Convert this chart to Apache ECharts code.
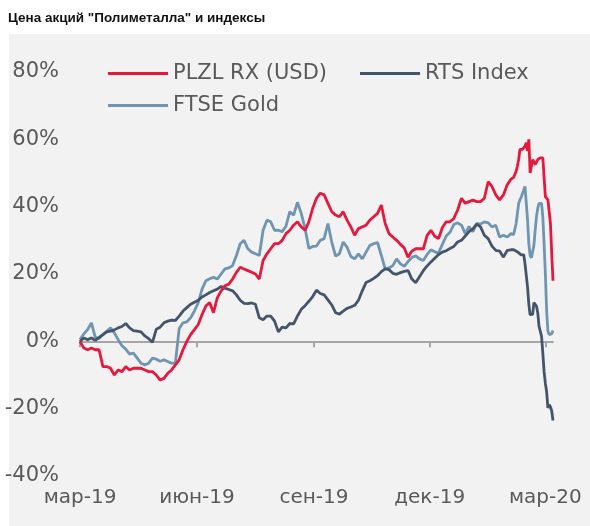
<!DOCTYPE html>
<html>
<head>
<meta charset="utf-8">
<script src="https://cdn.jsdelivr.net/npm/echarts@6/dist/echarts.min.js"></script>
<style>
html,body{margin:0;padding:0;background:#ffffff;}
#chart{width:590px;height:526px;}
</style>
</head>
<body>
<div id="chart"></div>
<script>
const titleText = 'Цена акций "Полиметалла" и индексы';
const seriesNames = ['PLZL RX (USD)', 'RTS Index', 'FTSE Gold'];
const tickDates = ['2019-03-01', '2019-06-01', '2019-09-01', '2019-12-01', '2020-03-01'];
const tickLabels = ['мар-19', 'июн-19', 'сен-19', 'дек-19', 'мар-20'];
const yTicks = [-40, -20, 0, 20, 40, 60, 80];

const dates = [
  '2019-03-01','2019-03-04','2019-03-07','2019-03-10','2019-03-13','2019-03-16','2019-03-19','2019-03-22','2019-03-25','2019-03-28','2019-03-31',
  '2019-04-03','2019-04-06','2019-04-09','2019-04-12','2019-04-15','2019-04-18','2019-04-21','2019-04-24','2019-04-27','2019-04-30',
  '2019-05-03','2019-05-06','2019-05-09','2019-05-12','2019-05-15','2019-05-18','2019-05-21','2019-05-24','2019-05-27','2019-05-30',
  '2019-06-02','2019-06-05','2019-06-08','2019-06-11','2019-06-14','2019-06-17','2019-06-20','2019-06-23','2019-06-26','2019-06-29',
  '2019-07-02','2019-07-05','2019-07-08','2019-07-11','2019-07-14','2019-07-17','2019-07-20','2019-07-23','2019-07-26','2019-07-29',
  '2019-08-01','2019-08-04','2019-08-07','2019-08-10','2019-08-13','2019-08-16','2019-08-19','2019-08-22','2019-08-25','2019-08-28','2019-08-31',
  '2019-09-03','2019-09-06','2019-09-09','2019-09-12','2019-09-15','2019-09-18','2019-09-21','2019-09-24','2019-09-27','2019-09-30',
  '2019-10-03','2019-10-06','2019-10-09','2019-10-12','2019-10-15','2019-10-18','2019-10-21','2019-10-24','2019-10-27','2019-10-30',
  '2019-11-02','2019-11-05','2019-11-08','2019-11-11','2019-11-14','2019-11-17','2019-11-20','2019-11-23','2019-11-26','2019-11-29',
  '2019-12-02','2019-12-05','2019-12-08','2019-12-11','2019-12-14','2019-12-17','2019-12-20','2019-12-23','2019-12-26','2019-12-29',
  '2020-01-01','2020-01-04','2020-01-07','2020-01-10','2020-01-13','2020-01-16','2020-01-19','2020-01-22','2020-01-25','2020-01-28','2020-01-31',
  '2020-02-03','2020-02-04','2020-02-05','2020-02-06','2020-02-07','2020-02-08','2020-02-09','2020-02-10','2020-02-11','2020-02-12',
  '2020-02-13','2020-02-14','2020-02-15','2020-02-16','2020-02-17','2020-02-18','2020-02-19','2020-02-20','2020-02-21','2020-02-22',
  '2020-02-23','2020-02-24','2020-02-25','2020-02-26','2020-02-27','2020-02-28','2020-02-29',
  '2020-03-01','2020-03-02','2020-03-03','2020-03-04','2020-03-05','2020-03-06','2020-03-07'
];

const plzl = [
  0, -2, -2.5, -2, -2.5, -2.5, -7.5, -7.5, -8, -10, -8.5,
  -9, -7.5, -8.5, -8, -8, -8, -8.5, -9, -9, -10,
  -11.5, -11, -9.5, -8.5, -7, -5.5, -2.5, 0, 2, 3.5,
  5, 8, 10.5, 11.5, 8.5, 13, 15, 16.5, 17, 18.5,
  20.5, 22, 21.5, 21, 20.5, 20, 18.5, 24, 26, 27.5,
  29, 29, 30, 32, 33, 34.5, 35.5, 34, 33, 35.5, 39.5,
  42.5, 44, 43.5, 41, 38.5, 37.5, 37, 38.5, 36, 34,
  31.5, 33.5, 34, 34.5, 36, 37, 38, 40.5, 35, 32,
  31, 30, 28.8, 27.7, 25, 26.8, 27.5, 27.5, 27.5, 31.5,
  33, 31.2, 30.5, 33.8, 35.5, 35.5, 36.5, 39, 42.5, 41,
  41.5, 42, 41.5, 41.5, 42.5, 47.4, 46, 43.5, 42, 43.5, 46.5,
  48.2, 48.5, 48.7, 49, 50.5, 52, 54, 57, 56.5, 57,
  57.5, 58, 59, 56.5, 60, 50, 52, 54, 53.5, 52.5,
  53, 54, 54, 54.5, 55, 54.5, 54,
  43, 42.5, 42, 41.5, 35, 26, 18
];

const rts = [
  0, 1, 0.5, 1, 0.3, 1.2, 2, 2.8, 3, 3.4, 4,
  4.4, 5.3, 4, 3.2, 3, 2.8, 1.6, 0.8, -0.3, 3.6,
  4.2, 5.5, 6, 6.3, 6.2, 7.5, 9, 10, 11, 11.6,
  12.2, 13.2, 13.8, 14.5, 15, 15.5, 16.3, 15.8, 15.4, 15,
  13.8, 12.2, 11.3, 11.2, 11.4, 11, 7, 6.4, 7.5, 7.5,
  6, 2.8, 4.2, 4, 5.3, 5.2, 7.5, 9.5, 10.6, 11.9, 13.3,
  15.2, 14.2, 13.8, 12.3, 10.8, 8.5, 8.1, 9, 9.8, 10.2,
  10.7, 12.2, 15, 17.5, 18, 18.7, 19.5, 20.7, 21.5, 21.3,
  20.2, 19.9, 20.4, 20.8, 21, 18.5, 17.4, 19.2, 21, 22.4,
  23.6, 24.7, 25.8, 26.5, 26.9, 27.6, 28.2, 29.5, 30, 31.3,
  32.6, 33.4, 34.8, 34, 31.5, 30.5, 28.3, 27, 26.8, 25, 27,
  27.2, 27, 27.2, 27.1, 26.8, 26.5, 26.3, 26, 25.7, 25.7,
  25.7, 23, 19.5, 16, 11, 7.9, 7.7, 8, 11.5, 11.5,
  10.5, 8.5, 4.5, 3, 1.5, -3.5, -9,
  -12.5, -15, -19.8, -18.8, -19.5, -20.7, -23.5
];

const ftse = [
  0.5, 2.2, 3.5, 5.5, 1.2, 0.8, 2, 3, 4, 2.5, 0.5,
  -1.3, -2.3, -3.8, -3.5, -5, -6.5, -7, -6.5, -5, -5.3,
  -5.9, -5.5, -6, -6.5, -6.5, 3.8, 5.5, 5.8, 7, 9,
  11.5, 15.5, 18, 18.6, 19, 18.5, 20, 21.5, 21.8, 22.5,
  25.5, 29, 30, 27.5, 26.5, 26, 25.5, 33, 36, 35.5,
  33, 33, 32.6, 34.2, 38.5, 37.5, 41.3, 38, 33.5, 27.6, 28.2,
  28.3, 30, 30.5, 35, 29.5, 25.3, 26, 29.5, 28, 25.2,
  24.5, 26, 24.5, 26.5, 28.5, 29, 29.3, 25.5, 21.5, 21.8,
  22.5, 24.5, 23, 22.3, 23.7, 24.9, 25.4, 24.5, 24, 25.8,
  27.2, 26.6, 26.3, 28.8, 31.3, 32.4, 34.7, 35.2, 34.5, 32,
  34.1, 32.6, 35, 34.8, 35.5, 35.2, 34, 34.5, 31, 31.5, 31,
  32, 32, 31.7, 32, 35, 38, 41, 42, 42.8, 43.3,
  45, 46, 41, 36, 29, 25.5, 24.8, 25, 28.5, 33,
  37, 39.5, 41, 41.5, 41, 37, 29,
  20, 9, 3, 2, 2, 2.3, 3.2
];

const colors = ['#e5193e', '#44546a', '#6f95b1'];
const FONT = "'DejaVu Sans', sans-serif";
const TEXT = '#595959';

function ts(s) {
  const p = s.split('-').map(Number);
  return Date.UTC(p[0], p[1] - 1, p[2]);
}
function pairs(vals) { return dates.map((d, i) => [ts(d), vals[i]]); }

const tickTs = tickDates.map(ts);
function xLabel(v) {
  for (let i = 0; i < tickTs.length; i++) {
    if (Math.abs(tickTs[i] - v) < 43200000) return tickLabels[i];
  }
  return '';
}

const xMin = ts(dates[0]);
const xMax = ts(dates[dates.length - 1]);

const chart = echarts.init(document.getElementById('chart'), null, {renderer: 'canvas'});
const legendBase = {
  orient: 'horizontal', icon: 'rect', itemWidth: 60, itemHeight: 3,
  textStyle: {fontFamily: FONT, fontSize: 21, color: TEXT},
  padding: 0, selectedMode: false
};
chart.setOption({
  animation: false,
  backgroundColor: 'transparent',
  color: colors,
  graphic: [{
    type: 'rect', z: -100, silent: true,
    shape: {x: 9, y: 34, width: 581, height: 492},
    style: {fill: '#f2f2f2'}
  }],
  title: {
    text: titleText, left: 8, top: 11, padding: 0,
    textStyle: {fontFamily: "'Liberation Sans', Arial, sans-serif", fontWeight: 'bold', fontSize: 13.5, color: '#111111'}
  },
  legend: [
    Object.assign({}, legendBase, {data: [seriesNames[0]], left: 108, top: 63}),
    Object.assign({}, legendBase, {data: [seriesNames[1]], left: 360, top: 63}),
    Object.assign({}, legendBase, {data: [seriesNames[2]], left: 108, top: 95})
  ],
  grid: {left: 80, right: 37, top: 72, bottom: 50, containLabel: false},
  xAxis: [{
    type: 'value', min: xMin, max: xMax, scale: true,
    axisLine: {show: true, onZero: true, lineStyle: {color: '#a6a6a6', width: 2}},
    axisTick: {show: true, length: 6, customValues: tickTs, lineStyle: {color: '#a6a6a6', width: 2}},
    axisLabel: {show: false},
    splitLine: {show: false}
  }, {
    type: 'value', min: xMin, max: xMax, scale: true, position: 'bottom',
    axisLine: {show: false, onZero: false},
    axisTick: {show: false},
    splitLine: {show: false},
    axisLabel: {
      show: true, customValues: tickTs, formatter: xLabel, margin: 12,
      fontFamily: FONT, fontSize: 20, color: TEXT, hideOverlap: false
    }
  }],
  yAxis: {
    type: 'value', min: yTicks[0], max: yTicks[yTicks.length - 1], interval: 20,
    axisLine: {show: false}, axisTick: {show: false}, splitLine: {show: false},
    axisLabel: {formatter: '{value}%', fontFamily: FONT, fontSize: 21, color: TEXT, margin: 21}
  },
  series: [
    {name: seriesNames[2], type: 'line', xAxisIndex: 0, data: pairs(ftse), showSymbol: false, symbol: 'none', lineStyle: {width: 2.8, color: colors[2]}, itemStyle: {color: colors[2]}, z: 2},
    {name: seriesNames[1], type: 'line', xAxisIndex: 0, data: pairs(rts), showSymbol: false, symbol: 'none', lineStyle: {width: 2.8, color: colors[1]}, itemStyle: {color: colors[1]}, z: 3},
    {name: seriesNames[0], type: 'line', xAxisIndex: 0, data: pairs(plzl), showSymbol: false, symbol: 'none', lineStyle: {width: 2.8, color: colors[0]}, itemStyle: {color: colors[0]}, z: 4}
  ]
});
</script>
</body>
</html>
